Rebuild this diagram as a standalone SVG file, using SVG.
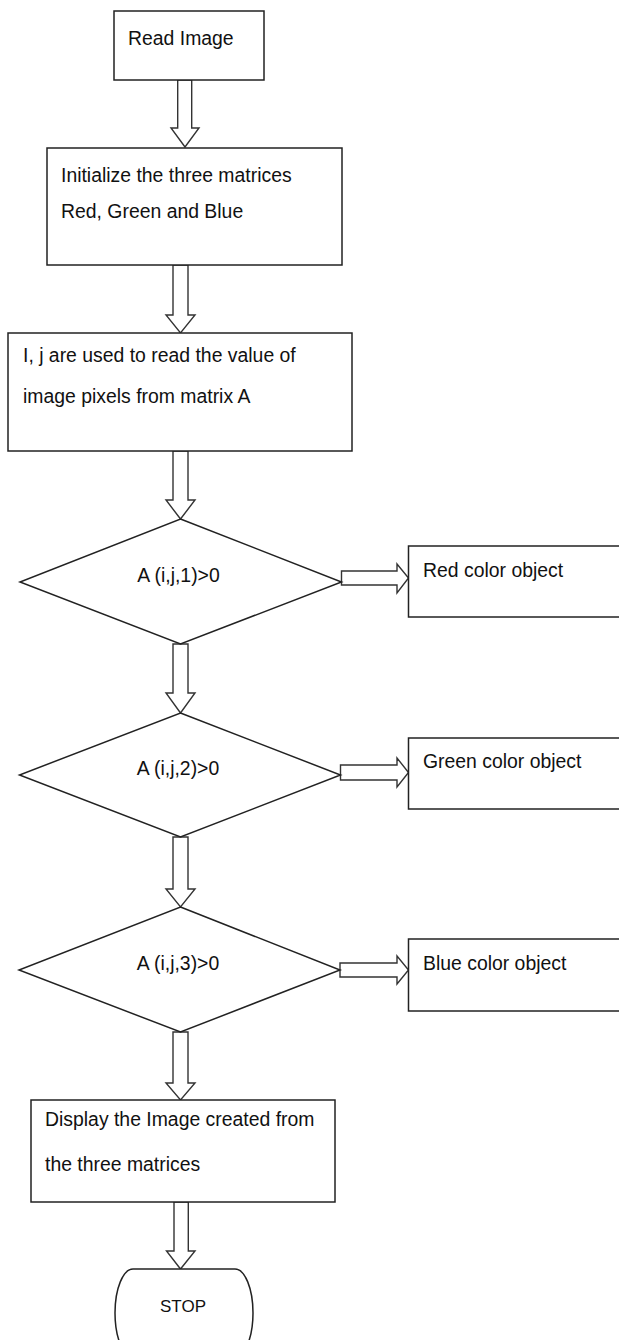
<svg xmlns="http://www.w3.org/2000/svg" width="619" height="1340" viewBox="0 0 619 1340">
  <style>
    .box { fill: #ffffff; stroke: #222222; stroke-width: 1.5; }
    .arrow { fill: #ffffff; stroke: #333333; stroke-width: 1.4; stroke-linejoin: miter; }
    .label { font-family: "Liberation Sans", Arial, sans-serif; font-size: 19.4px; fill: #111111; }
    .mid { text-anchor: middle; }
  </style>
  <rect x="0" y="0" width="619" height="1340" fill="#ffffff"/>

  <!-- block arrows between the steps -->
  <g id="connectors">
    <polygon class="arrow" points="177.7,80 191.7,80 191.7,128 199,128 185,147 171,128 177.7,128"/>
    <polygon class="arrow" points="173,265 188,265 188,315 195,315 180.5,333 166,315 173,315"/>
    <polygon class="arrow" points="173,451 188,451 188,500 195,500 180.5,519 166,500 173,500"/>
    <polygon class="arrow" points="173,644 188,644 188,693 195,693 180.5,713 166,693 173,693"/>
    <polygon class="arrow" points="173,837 188,837 188,889 195,889 180.5,907 166,889 173,889"/>
    <polygon class="arrow" points="173,1032 188,1032 188,1083 195,1083 180.5,1100 166,1083 173,1083"/>
    <polygon class="arrow" points="174,1202 188.3,1202 188.3,1251 195,1251 180.5,1269 166.5,1251 174,1251"/>
    <!-- decision outputs to the right -->
    <polygon class="arrow" points="341.5,571 397,571 397,564 408.5,578 397,593 397,585 341.5,585"/>
    <polygon class="arrow" points="340.5,765 397,765 397,758 408.5,772.5 397,787 397,780 340.5,780"/>
    <polygon class="arrow" points="340,963 397,963 397,956 408.5,970 397,984 397,977 340,977"/>
  </g>

  <g id="read-image">
    <rect class="box" x="114" y="11" width="150" height="69"/>
    <text class="label" x="128" y="45">Read Image</text>
  </g>

  <g id="init-matrices">
    <rect class="box" x="47" y="148" width="295" height="117"/>
    <text class="label" x="61" y="182">Initialize the three matrices</text>
    <text class="label" x="61" y="218">Red, Green and Blue</text>
  </g>

  <g id="read-pixels">
    <rect class="box" x="8" y="333" width="344" height="118"/>
    <text class="label" x="23" y="362">I, j are used to read the value of</text>
    <text class="label" x="23" y="403">image pixels from matrix A</text>
  </g>

  <g id="check-red">
    <polygon class="box" points="180.5,519 341.5,582 180.5,644 20,582"/>
    <text class="label mid" x="178.5" y="582">A (i,j,1)&gt;0</text>
  </g>

  <g id="red-object">
    <rect class="box" x="408.5" y="546" width="215" height="71"/>
    <text class="label" x="423" y="577">Red color object</text>
  </g>

  <g id="check-green">
    <polygon class="box" points="180.5,713 340.5,775 180.5,837 19.5,775"/>
    <text class="label mid" x="178" y="775">A (i,j,2)&gt;0</text>
  </g>

  <g id="green-object">
    <rect class="box" x="408.5" y="738" width="215" height="71"/>
    <text class="label" x="423" y="768">Green color object</text>
  </g>

  <g id="check-blue">
    <polygon class="box" points="180.5,907 340,970 180.5,1032 19,970"/>
    <text class="label mid" x="178" y="970">A (i,j,3)&gt;0</text>
  </g>

  <g id="blue-object">
    <rect class="box" x="408.5" y="939" width="215" height="72"/>
    <text class="label" x="423" y="970">Blue color object</text>
  </g>

  <g id="display-image">
    <rect class="box" x="31" y="1100" width="304" height="102"/>
    <text class="label" x="45" y="1126">Display the Image created from</text>
    <text class="label" x="45" y="1171">the three matrices</text>
  </g>

  <g id="stop">
    <rect class="box" x="115" y="1269" width="138" height="88" rx="18" ry="44"/>
    <text class="label mid" x="183" y="1312" style="font-size:17px">STOP</text>
  </g>
</svg>
